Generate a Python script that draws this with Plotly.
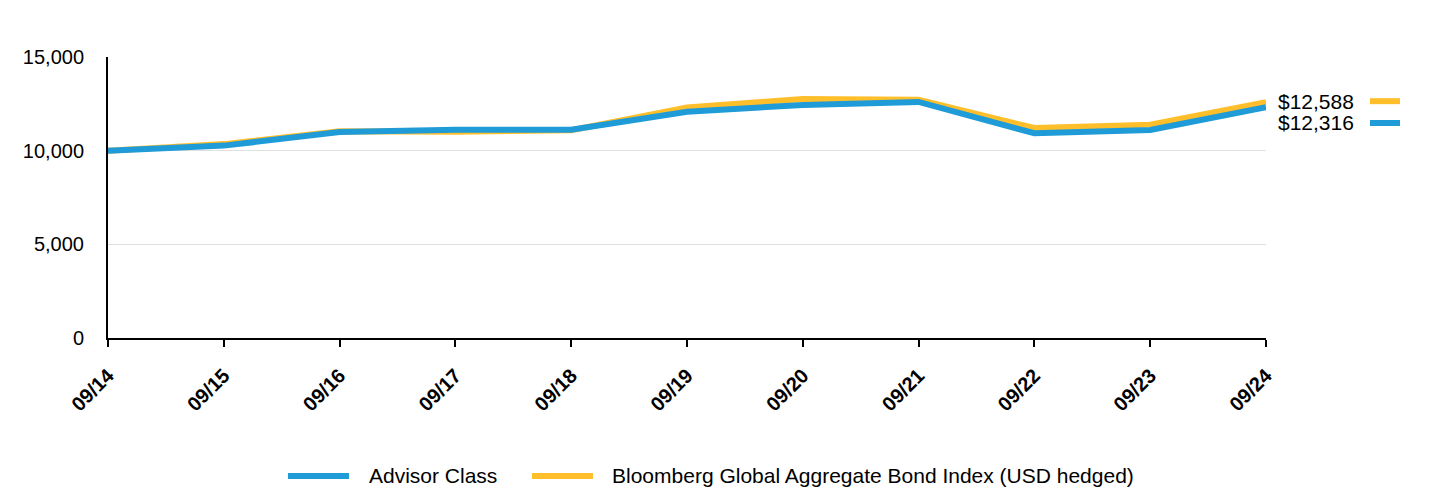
import plotly.graph_objects as go

dates = ["09/14", "09/15", "09/16", "09/17", "09/18", "09/19", "09/20", "09/21", "09/22", "09/23", "09/24"]
advisor = [10000, 10270, 10990, 11120, 11120, 12080, 12440, 12600, 10930, 11100, 12316]
index_hedged = [10000, 10350, 11030, 11010, 11090, 12300, 12760, 12720, 11210, 11390, 12588]
names = ["Advisor Class", "Bloomberg Global Aggregate Bond Index (USD hedged)"]

BLUE = "#1F9BD7"
GOLD = "#FFBF2B"
FONT = "Liberation Sans, Arial, sans-serif"

fig = go.Figure()
fig.add_trace(go.Scatter(x=dates, y=index_hedged, mode="lines", name=names[1],
                         line=dict(color=GOLD, width=6), showlegend=False))
fig.add_trace(go.Scatter(x=dates, y=advisor, mode="lines", name=names[0],
                         line=dict(color=BLUE, width=6), showlegend=False))

# page body has an 8px margin; compensate so plot sits at 108..1266 x 57..338
fig.update_layout(
    width=1440, height=492,
    margin=dict(l=100, r=182, t=49, b=162),
    plot_bgcolor="white", paper_bgcolor="white",
    font=dict(family=FONT, color="#000000"),
    showlegend=False,
    xaxis=dict(type="category", range=[0, 10], showgrid=False, showline=True,
               linecolor="#000000", linewidth=2, ticks="outside", ticklen=7,
               tickcolor="#000000", tickwidth=2, tickangle=-45, automargin=False,
               ticklabelstandoff=9,
               tickfont=dict(size=20, family=FONT, weight="bold")),
    yaxis=dict(range=[0, 15000], tickvals=[0, 5000, 10000, 15000], tickformat=",",
               showgrid=True, gridcolor="#E0E0E0", gridwidth=1, showline=True,
               linecolor="#000000", linewidth=2, zeroline=False, ticks="",
               automargin=False, tickfont=dict(size=20), ticklabelstandoff=18),
)

UNIT_PER_PX = 15000 / 281
ends = [(index_hedged[-1], GOLD, 1), (advisor[-1], BLUE, -15.7)]
for val, col, shift in ends:
    fig.add_annotation(x=1.0, xref="paper", y=val, yref="y", yshift=shift,
                       text="${:,}".format(val), showarrow=False, xanchor="left",
                       xshift=10, font=dict(size=21, family=FONT, color="#000000"))
    yy = val + shift * UNIT_PER_PX
    fig.add_shape(type="line", xref="paper", yref="y", x0=1.0898, x1=1.1157,
                  y0=yy, y1=yy, line=dict(color=col, width=6))

# legend (drawn to match the reference's long swatches)
leg_y = -0.491
legend_items = [(names[0], BLUE, 0.1554, 0.2081, 0.2237),
                (names[1], GOLD, 0.3661, 0.4188, 0.4335)]
for name, col, x0, x1, xt in legend_items:
    fig.add_shape(type="line", xref="paper", yref="paper", x0=x0, x1=x1,
                  y0=leg_y, y1=leg_y, line=dict(color=col, width=6))
    fig.add_annotation(x=xt, xref="paper", y=leg_y, yref="paper", text=name,
                       showarrow=False, xanchor="left", yanchor="middle",
                       font=dict(size=21, family=FONT, color="#000000"))

fig.write_html("out.html")
